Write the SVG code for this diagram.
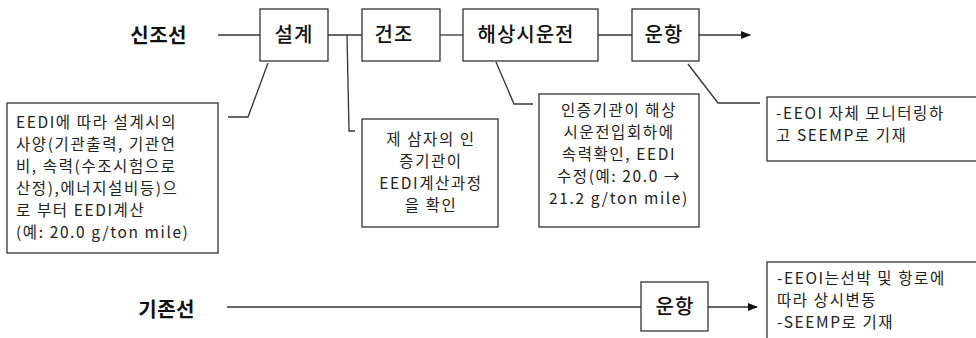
<svg xmlns="http://www.w3.org/2000/svg" width="976" height="338" viewBox="0 0 976 338">
<style>
.bx{fill:#fff;stroke:#333;stroke-width:1.3}
.ln{fill:none;stroke:#333;stroke-width:1.3}
.tt{font-family:"Noto Sans CJK KR","Noto Sans",sans-serif;font-size:20px;font-weight:bold;fill:#111;letter-spacing:0.5px}
.lb{font-family:"Noto Sans CJK KR","Noto Sans",sans-serif;font-size:20px;font-weight:500;fill:#111;text-anchor:middle;letter-spacing:1px}
.sm{font-family:"Noto Sans CJK KR","Noto Sans",sans-serif;font-size:15.5px;fill:#222;letter-spacing:1.6px}
.c{text-anchor:middle}
</style>
<defs>
<marker id="ar" markerWidth="10" markerHeight="10" refX="9" refY="5" orient="auto" markerUnits="userSpaceOnUse">
<path d="M0,1 L10,5 L0,9 Z" fill="#111"/>
</marker>
</defs>
<rect width="976" height="338" fill="#fff"/>
<g id="connectors">
<line class="ln" x1="218" y1="35" x2="260" y2="35"/>
<line class="ln" x1="328" y1="35" x2="362" y2="35"/>
<line class="ln" x1="440" y1="35" x2="463" y2="35"/>
<line class="ln" x1="598" y1="35" x2="632" y2="35"/>
<line class="ln" x1="699" y1="35" x2="750" y2="35" marker-end="url(#ar)"/>
<polyline class="ln" points="268,63 248,117 228,117"/>
<polyline class="ln" points="347,35 349,131 355,131"/>
<polyline class="ln" points="496,62 514,104 533,104"/>
<polyline class="ln" points="688,64 718,103 760,103"/>
<line class="ln" x1="227" y1="307" x2="641" y2="307"/>
<line class="ln" x1="708" y1="307" x2="757" y2="307" marker-end="url(#ar)"/>
</g>
<g id="title-new"><text class="tt" x="187" y="43" text-anchor="end">신조선</text></g>
<g id="title-old"><text class="tt" x="195" y="317" text-anchor="end">기존선</text></g>
<g id="design"><rect class="bx" x="260" y="9" width="68" height="52"/><text class="lb" x="294" y="42">설계</text></g>
<g id="build"><rect class="bx" x="362" y="9" width="78" height="52"/><text class="lb" x="394" y="42">건조</text></g>
<g id="seatrial"><rect class="bx" x="463" y="9" width="135" height="52"/><text class="lb" x="526" y="42">해상시운전</text></g>
<g id="operate"><rect class="bx" x="632" y="9" width="67" height="52"/><text class="lb" x="664" y="42">운항</text></g>
<g id="operate-old"><rect class="bx" x="641" y="282" width="67" height="49"/><text class="lb" x="675" y="314">운항</text></g>
<g id="note-design"><rect class="bx" x="7" y="103" width="211" height="150"/>
<text class="sm" x="16" y="128">EEDI에 따라 설계시의</text>
<text class="sm" x="16" y="150">사양(기관출력, 기관연</text>
<text class="sm" x="16" y="172">비, 속력(수조시험으로</text>
<text class="sm" x="16" y="194">산정),에너지설비등)으</text>
<text class="sm" x="16" y="216">로 부터 EEDI계산</text>
<text class="sm" x="16" y="238">(예: 20.0 g/ton mile)</text>
</g>
<g id="note-build"><rect class="bx" x="362" y="119" width="136" height="108"/>
<text class="sm c" x="431" y="145">제 삼자의 인</text>
<text class="sm c" x="431" y="167">증기관이</text>
<text class="sm c" x="431" y="189">EEDI계산과정</text>
<text class="sm c" x="431" y="211">을 확인</text>
</g>
<g id="note-trial"><rect class="bx" x="539" y="94" width="160" height="133"/>
<text class="sm c" x="619" y="116">인증기관이 해상</text>
<text class="sm c" x="619" y="138">시운전입회하에</text>
<text class="sm c" x="619" y="160">속력확인, EEDI</text>
<text class="sm c" x="619" y="182">수정(예: 20.0 →</text>
<text class="sm c" x="619" y="204">21.2 g/ton mile)</text>
</g>
<g id="note-operate"><rect class="bx" x="767" y="97" width="215" height="64"/>
<text class="sm" x="776" y="119">-EEOI 자체 모니터링하</text>
<text class="sm" x="776" y="141">고 SEEMP로 기재</text>
</g>
<g id="note-old"><rect class="bx" x="767" y="262" width="215" height="90"/>
<text class="sm" x="777" y="284">-EEOI는선박 및 항로에</text>
<text class="sm" x="777" y="306">따라 상시변동</text>
<text class="sm" x="777" y="328">-SEEMP로 기재</text>
</g>
</svg>
